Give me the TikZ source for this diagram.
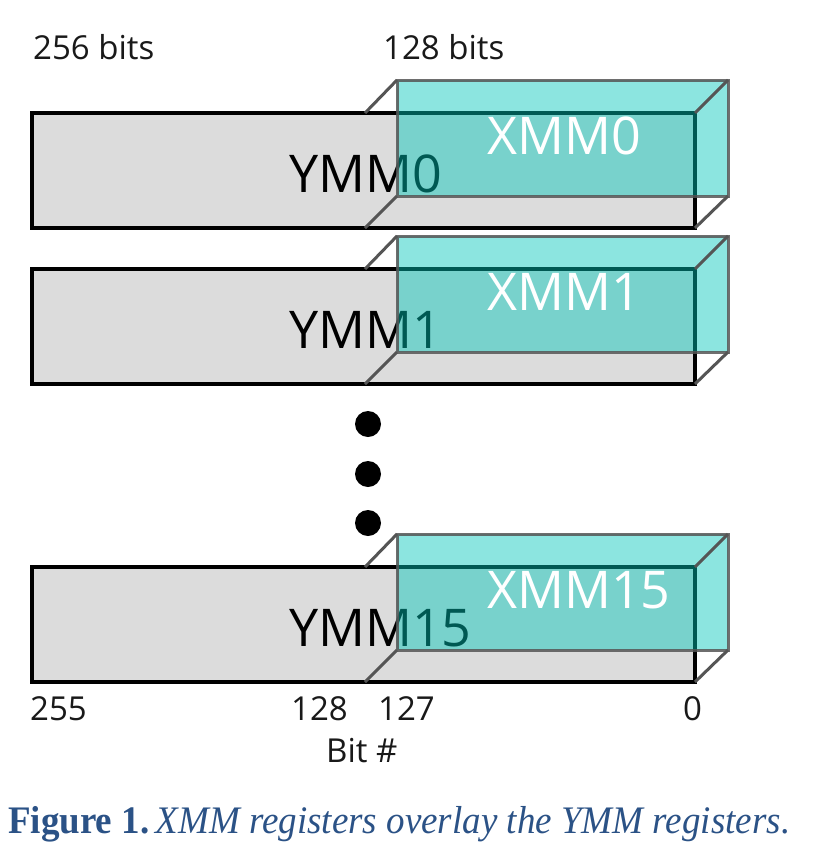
\documentclass[tikz,border=0pt]{standalone}
\usepackage{fontspec}
\setmainfont{Open Sans}
\newfontfamily\capfont{Liberation Serif}
\definecolor{ymmgray}{HTML}{DCDCDC}
\definecolor{xmmcyan}{RGB}{0,198,186}
\definecolor{edgegray}{HTML}{555555}
\definecolor{capblue}{HTML}{2B5286}
\tikzset{
  ymmface/.style={fill=ymmgray, draw=black, line width=3.5pt},
  xmmface/.style={fill=xmmcyan, fill opacity=0.45, draw=edgegray, draw opacity=0.85, line width=3pt},
  edgeline/.style={draw=edgegray, line width=3pt},
  reglabel/.style={inner sep=0pt, anchor=base west, font=\fontsize{52}{60}\selectfont},
  ylabel/.style={reglabel, text=black},
  xlabel/.style={reglabel, text=white},
  smalllabel/.style={inner sep=0pt, anchor=base west, font=\fontsize{33}{39}\selectfont, text=black!90},
  dotmark/.style={fill=black}
}
\begin{document}
\begin{tikzpicture}[x=1pt,y=-1pt]
\useasboundingbox (0,0) rectangle (820,860);
\node[smalllabel] (bits256) at (33,59) {256 bits};
\node[smalllabel] (bits128) at (383,59) {128 bits};
\foreach \t/\n in {113/0,269/1,567/15}{
  \path[ymmface] (32,\t) rectangle (695,\t+115);
  \node[ylabel] (ymm\n) at (289,\t+79) {YMM\n};
  \path[xmmface] (397,\t-33) rectangle (728,\t+83);
  \node[xlabel] (xmm\n) at (487,\t+41) {XMM\n};
  \coordinate (fa\n) at (365,\t);
  \coordinate (ba\n) at (397,\t-33);
  \coordinate (fb\n) at (365,\t+115);
  \coordinate (bb\n) at (397,\t+83);
  \coordinate (fc\n) at (695,\t);
  \coordinate (bc\n) at (728,\t-33);
  \coordinate (fd\n) at (695,\t+115);
  \coordinate (bd\n) at (728,\t+83);
  \draw[edgeline] (fa\n) -- (ba\n);
  \draw[edgeline] (fb\n) -- (bb\n);
  \draw[edgeline] (fc\n) -- (bc\n);
  \draw[edgeline] (fd\n) -- (bd\n);
}
\fill[dotmark] (368,424) circle (13);
\fill[dotmark] (368,474) circle (13);
\fill[dotmark] (368,523) circle (13);
\node[smalllabel] (b255) at (30,720) {255};
\node[smalllabel] (b128) at (291,720) {128};
\node[smalllabel] (b127) at (378,720) {127};
\node[smalllabel] (b0) at (683,720) {0};
\node[smalllabel] (bitnum) at (326,762) {Bit \#};
\node[inner sep=0pt, anchor=base west, text=capblue] (caption) at (8,833)
  {\resizebox{782pt}{\height}{\capfont\fontsize{39}{45}\selectfont\textbf{Figure 1.}\,\textit{XMM registers overlay the YMM registers.}}};
\end{tikzpicture}
\end{document}
